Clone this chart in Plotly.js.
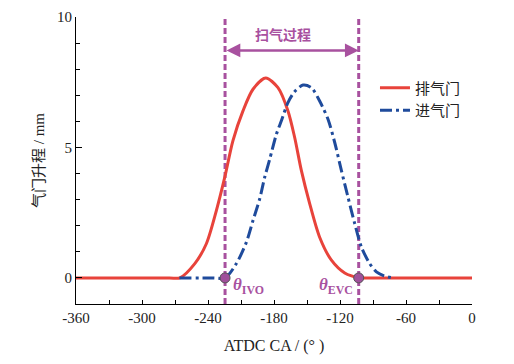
<!DOCTYPE html>
<html>
<head>
<meta charset="utf-8">
<script src="https://cdn.plot.ly/plotly-3.0.1.min.js"></script>
<style>html,body{margin:0;padding:0;background:#fff;}#chart{width:514px;height:364px;}</style>
</head>
<body>
<div id="chart"></div>
<script>
// ---- data ----
const exhaustAngle = [-360, -275, -265.7, -252, -241.5, -232.4, -224.8, -217.3, -208.2, -199.1, -187.5, -176.4, -167.3, -161.2, -155.1, -147.5, -138.5, -127.8, -115.7, -103, -95, 0];
const exhaustLift  = [0, 0, 0, 0.55, 1.31, 2.58, 3.85, 5.26, 6.40, 7.23, 7.66, 7.29, 6.40, 5.38, 4.11, 2.84, 1.56, 0.68, 0.19, 0.01, 0, 0];

const intakeAngle = [-266, -235, -224.5, -214.2, -205.1, -199.1, -193.0, -188.5, -183.9, -177.8, -173.3, -167.3, -161.2, -153.6, -146.0, -138.5, -130.9, -124.8, -118.7, -112.7, -106.6, -100.5, -93.0, -86.9, -80, -72];
const intakeLift  = [0, 0, 0, 0.55, 1.37, 2.2, 3.03, 3.85, 4.55, 5.51, 6.02, 6.72, 7.14, 7.39, 7.29, 6.78, 6.08, 5.19, 4.11, 3.09, 2.08, 1.18, 0.55, 0.23, 0.08, 0];

const seriesNames = ['排气门', '进气门'];
const timingAngle = [-224.5, -103];   // IVO, EVC
const timingLift  = [0, 0];
const timingLabels = ['<b><i>θ</i><sub>IVO</sub></b>', '<b><i>θ</i><sub>EVC</sub></b>'];
const scavengeLabel = '扫气过程';
const xTicks = [-360, -300, -240, -180, -120, -60, 0];
const yTicks = [0, 5, 10];

// ---- styles ----
const RED = '#e8433b', BLUE = '#1f4b9c', PURPLE = '#a8519f';
const SERIF = 'Liberation Serif, Times New Roman, Noto Sans CJK SC, serif';
const CJK = 'Noto Sans CJK SC, sans-serif';

const traces = [
  {x: exhaustAngle, y: exhaustLift, name: seriesNames[0], type: 'scatter', mode: 'lines',
   line: {color: RED, width: 3, shape: 'spline', smoothing: 0.8}},
  {x: intakeAngle, y: intakeLift, name: seriesNames[1], type: 'scatter', mode: 'lines',
   line: {color: BLUE, width: 3, dash: '12px,4px,3px,4px', shape: 'spline', smoothing: 0.8}},
  {x: timingAngle, y: timingLift, type: 'scatter', mode: 'markers', showlegend: false, hoverinfo: 'skip',
   marker: {symbol: 'circle', size: 10, color: '#a0509b', line: {color: '#555', width: 1}}}
];

const shapes = timingAngle.map(a => ({
  type: 'line', xref: 'x', yref: 'y', x0: a, x1: a, y0: -1, y1: 10,
  line: {color: PURPLE, width: 3, dash: '6px,3px'}, layer: 'below'
}));

const annotations = [
  {x: timingAngle[0] + 5, y: -0.3, xref: 'x', yref: 'y', text: timingLabels[0], showarrow: false,
   xanchor: 'left', yanchor: 'middle', font: {family: SERIF, size: 17, color: PURPLE}},
  {x: timingAngle[1] - 3.5, y: -0.3, xref: 'x', yref: 'y', text: timingLabels[1], showarrow: false,
   xanchor: 'right', yanchor: 'middle', font: {family: SERIF, size: 17, color: PURPLE}},
  {x: -172, y: 9.33, xref: 'x', yref: 'y', text: '<b>' + scavengeLabel + '</b>', showarrow: false,
   xanchor: 'center', yanchor: 'middle', font: {family: CJK, size: 14, color: PURPLE}},
  {x: timingAngle[1], y: 8.72, ax: timingAngle[0], ay: 8.72, xref: 'x', yref: 'y', axref: 'x', ayref: 'y',
   text: '', showarrow: true, arrowhead: 2, startarrowhead: 2, arrowside: 'end+start',
   arrowsize: 1.1, startarrowsize: 1.1, arrowwidth: 2.5, arrowcolor: PURPLE, standoff: 0, startstandoff: 0}
];

const layout = {
  width: 514, height: 364,
  margin: {l: 76, r: 42, t: 17, b: 60, pad: 0},
  paper_bgcolor: '#fff', plot_bgcolor: '#fff',
  showlegend: true,
  legend: {x: 0.755, y: 0.81, xanchor: 'left', yanchor: 'top', bgcolor: 'rgba(0,0,0,0)',
           font: {family: CJK, size: 15, color: '#222'}, tracegroupgap: 0},
  xaxis: {range: [-360, 0], tickvals: xTicks, ticktext: xTicks.map(String),
          showline: true, linecolor: '#000', linewidth: 1, showgrid: false, zeroline: false,
          ticks: 'inside', ticklen: 4, tickwidth: 1, tickcolor: '#000',
          minor: {dtick: 30, tick0: 0, ticks: 'inside', ticklen: 4, tickwidth: 1, tickcolor: '#000'},
          tickfont: {family: SERIF, size: 15, color: '#222'},
          title: {text: 'ATDC CA / (° )', font: {family: SERIF, size: 16, color: '#222'}, standoff: 14}},
  yaxis: {range: [-1, 10], tickvals: yTicks, ticktext: yTicks.map(String),
          showline: true, linecolor: '#000', linewidth: 1, showgrid: false, zeroline: false,
          ticks: 'inside', ticklen: 6, tickwidth: 1, tickcolor: '#000',
          minor: {dtick: 1, tick0: 0, ticks: 'inside', ticklen: 4, tickwidth: 1, tickcolor: '#000'},
          tickfont: {family: SERIF, size: 15, color: '#222'},
          title: {text: '气门升程 / mm', font: {family: SERIF, size: 15, color: '#222'}, standoff: 8}},
  shapes: shapes,
  annotations: annotations
};

Plotly.newPlot('chart', traces, layout, {staticPlot: true, displayModeBar: false});
</script>
</body>
</html>
